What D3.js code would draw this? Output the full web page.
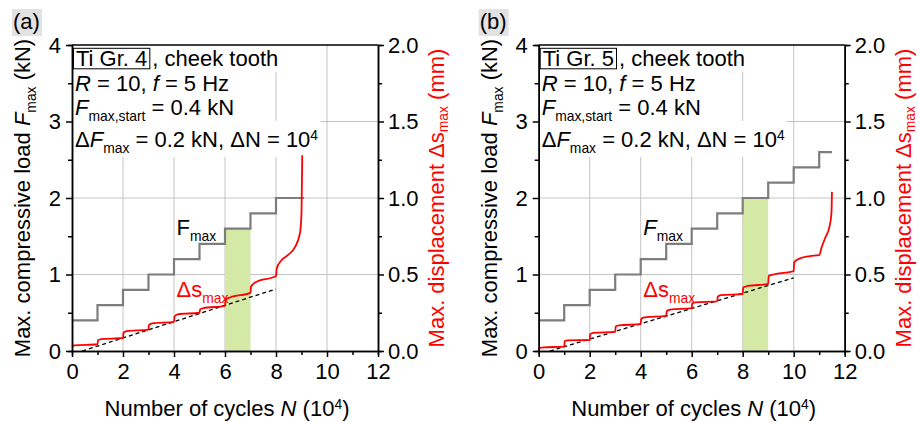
<!DOCTYPE html>
<html>
<head>
<meta charset="utf-8">
<script src="https://d3js.org/d3.v7.min.js"></script>
<style>
  body { margin: 0; background: #fff; }
  text { font-family: "Liberation Sans", Arial, sans-serif; }
</style>
</head>
<body>
<script>
// ---- data ----
const xTicks = [0, 2, 4, 6, 8, 10, 12];
const xMinor = [1, 3, 5, 7, 9, 11];
const fTicks = [0, 1, 2, 3, 4];
const fMinor = [0.5, 1.5, 2.5, 3.5];
const sTicks = [0, 0.5, 1.0, 1.5, 2.0];
const sMinor = [0.25, 0.75, 1.25, 1.75];

// F_max step levels (kN), one per block of 10^4 cycles
const fLevelsA = [0.4, 0.6, 0.8, 1.0, 1.2, 1.4, 1.6, 1.8, 2.0];
const fEndA = 9.1;
const fLevelsB = [0.4, 0.6, 0.8, 1.0, 1.2, 1.4, 1.6, 1.8, 2.0, 2.2, 2.4, 2.6];
const fEndB = 11.5;

// max displacement (mm) vs cycles (10^4)
const dsA = [
  [0, 0.03], [0.1, 0.037], [1, 0.044],
  [1.02, 0.07], [1.15, 0.078], [2, 0.085],
  [2.02, 0.12], [2.15, 0.13], [3, 0.14],
  [3.02, 0.17], [3.15, 0.18], [4, 0.19],
  [4.02, 0.225], [4.15, 0.24], [5, 0.25],
  [5.02, 0.27], [5.15, 0.28], [6, 0.295],
  [6.02, 0.335], [6.2, 0.35], [7, 0.38],
  [7.02, 0.42], [7.2, 0.45], [8, 0.49],
  [8.03, 0.54], [8.2, 0.59], [8.45, 0.625], [8.75, 0.68], [8.94, 0.77], [9.0, 0.9], [9.03, 1.28]
];
const dsB = [
  [0, 0.005], [0.05, 0.02], [0.2, 0.024], [1, 0.028],
  [1.02, 0.065], [1.15, 0.07], [2, 0.072],
  [2.02, 0.11], [2.15, 0.118], [3, 0.125],
  [3.02, 0.16], [3.15, 0.168], [4, 0.175],
  [4.02, 0.21], [4.15, 0.22], [5, 0.23],
  [5.02, 0.26], [5.15, 0.27], [6, 0.28],
  [6.02, 0.31], [6.15, 0.318], [7, 0.325],
  [7.02, 0.355], [7.15, 0.365], [8, 0.372],
  [8.02, 0.415], [8.2, 0.425], [9, 0.438],
  [9.02, 0.49], [9.2, 0.5], [10, 0.522],
  [10.02, 0.58], [10.25, 0.605], [10.64, 0.62], [11, 0.627],
  [11.1, 0.68], [11.25, 0.745], [11.4, 0.81], [11.48, 0.9], [11.5, 1.04]
];
// linear trend (dashed)
const trendA = [[0.4, 0], [8, 0.405]];
const trendB = [[0.44, 0], [10, 0.478]];
// highlighted block [start, end, Fmax]
const bandA = [6, 7, 1.6];
const bandB = [8, 9, 2.0];

const panels = [
  { id: "(a)", left: 72, mat: "Ti Gr. 4", fLevels: fLevelsA, fEnd: fEndA, ds: dsA, trend: trendA, band: bandA, fItalic: false },
  { id: "(b)", left: 538.7, mat: "Ti Gr. 5", fLevels: fLevelsB, fEnd: fEndB, ds: dsB, trend: trendB, band: bandB, fItalic: true }
];

const W = 919, H = 422;
const plotTop = 45, plotBottom = 351, pw = 306;
const FS = 22;

const svg = d3.select("body").append("svg").attr("width", W).attr("height", H);

// rich text helper: segs = [{t, it, sub, sup}]
function rich(g, x, y, segs, size, color, subShift) {
  const t = g.append("text").attr("x", x).attr("y", y)
    .style("font-size", size + "px").attr("fill", color || "#000");
  let shift = 0;
  segs.forEach(s => {
    const target = s.sub ? (subShift || 0.28) * size : (s.sup ? -0.3 * size : 0);
    const sp = t.append("tspan").text(s.t).attr("dy", target - shift);
    shift = target;
    if (s.sub || s.sup) sp.style("font-size", (0.63 * size) + "px");
    if (s.it) sp.style("font-style", "italic");
  });
  return t;
}

panels.forEach(p => {
  const g = svg.append("g");
  const x = d3.scaleLinear().domain([0, 12]).range([p.left, p.left + pw]);
  const yF = d3.scaleLinear().domain([0, 4]).range([plotBottom, plotTop]);
  const yS = d3.scaleLinear().domain([0, 2]).range([plotBottom, plotTop]);

  // panel tag
  g.append("rect").attr("x", p.left - 60).attr("y", 9).attr("width", 30).attr("height", 27).attr("fill", "#e2e2e2");
  g.append("text").attr("x", p.left - 59).attr("y", 28.5).style("font-size", FS + "px").text(p.id);

  // grid
  g.selectAll(".gx").data(xTicks.slice(1, -1)).join("line")
    .attr("x1", d => x(d)).attr("x2", d => x(d)).attr("y1", plotTop).attr("y2", plotBottom)
    .attr("stroke", "#c4c4c4").attr("stroke-width", 1);
  g.selectAll(".gy").data(fTicks.slice(1, -1)).join("line")
    .attr("x1", p.left).attr("x2", p.left + pw).attr("y1", d => yF(d)).attr("y2", d => yF(d))
    .attr("stroke", "#c4c4c4").attr("stroke-width", 1);

  // annotation text with white backgrounds
  const bg = g.append("g");
  const tx = g.append("g");
  const lx = p.left + 3;
  const t1 = tx.append("text").attr("x", p.left + 4).attr("y", 65.5).style("font-size", FS + "px").text(p.mat);
  const b1 = t1.node().getBBox();
  const t1b = tx.append("text").attr("x", b1.x + b1.width + 5).attr("y", 65.5).style("font-size", FS + "px").text(", cheek tooth");
  const t2 = rich(tx, lx, 91, [{ t: "R", it: true }, { t: " = 10, " }, { t: "f", it: true }, { t: " = 5 Hz" }], FS);
  const t3 = rich(tx, lx, 115, [{ t: "F", it: true }, { t: "max,start", sub: true }, { t: " = 0.4 kN" }], FS);
  const t4 = rich(tx, lx, 146.5, [{ t: "Δ" }, { t: "F", it: true }, { t: "max", sub: true }, { t: " = 0.2 kN, ΔN = 10" }, { t: "4", sup: true }], FS);
  const bands = [[t1b, 45, 72], [t2, 72, 97], [t3, 97, 121], [t4, 121, 157]];
  bands.forEach(([t, y0, y1]) => {
    const bb = t.node().getBBox();
    bg.append("rect").attr("x", p.left + 1).attr("y", y0)
      .attr("width", bb.x + bb.width + 2 - p.left - 1).attr("height", y1 - y0).attr("fill", "#fff");
  });
  tx.append("rect").attr("x", b1.x - 2.5).attr("y", 48.3).attr("width", b1.width + 5).attr("height", 20.5)
    .attr("fill", "none").attr("stroke", "#000").attr("stroke-width", 1);

  // highlighted block
  g.append("rect").attr("x", x(p.band[0])).attr("width", x(p.band[1]) - x(p.band[0]))
    .attr("y", yF(p.band[2])).attr("height", plotBottom - yF(p.band[2])).attr("fill", "#d4e9a6");

  // trend
  g.append("path").attr("d", d3.line().x(d => x(d[0])).y(d => yS(d[1]))(p.trend))
    .attr("fill", "none").attr("stroke", "#000").attr("stroke-width", 1.3).attr("stroke-dasharray", "4,3");

  // F_max steps
  const steps = [];
  p.fLevels.forEach((v, i) => {
    steps.push([i, v]);
    steps.push([i === p.fLevels.length - 1 ? p.fEnd : i + 1, v]);
  });
  g.append("path").attr("d", d3.line().x(d => x(d[0])).y(d => yF(d[1]))(steps))
    .attr("fill", "none").attr("stroke", "#7d7d7d").attr("stroke-width", 2.2);

  // displacement
  g.append("path").attr("d", d3.line().x(d => x(d[0])).y(d => yS(d[1])).curve(d3.curveMonotoneX)(p.ds))
    .attr("fill", "none").attr("stroke", "#ff0000").attr("stroke-width", 1.8);

  // curve labels
  rich(g, x(4.1), 235, [{ t: "F", it: p.fItalic }, { t: "max", sub: true }], FS, "#000");
  rich(g, x(4.1), 297, [{ t: "Δs" }, { t: "max", sub: true }], FS, "#ff0000");

  // axes
  function styleAxis(a) {
    a.selectAll("path").attr("stroke", "#000").attr("stroke-width", 1.5);
    a.selectAll("line").attr("stroke", "#000").attr("stroke-width", 1.5);
    a.selectAll("text").style("font-size", FS + "px").style("font-family", "Liberation Sans, Arial, sans-serif").attr("fill", "#000");
  }
  styleAxis(g.append("g").attr("transform", `translate(0,${plotBottom})`)
    .call(d3.axisBottom(x).tickValues(xMinor).tickSize(4).tickFormat("")));
  styleAxis(g.append("g").attr("transform", `translate(0,${plotBottom})`)
    .call(d3.axisBottom(x).tickValues(xTicks).tickSize(6).tickSizeOuter(0).tickPadding(6).tickFormat(d3.format("d"))));
  styleAxis(g.append("g").attr("transform", `translate(${p.left},0)`)
    .call(d3.axisLeft(yF).tickValues(fMinor).tickSize(4).tickFormat("")));
  styleAxis(g.append("g").attr("transform", `translate(${p.left},0)`)
    .call(d3.axisLeft(yF).tickValues(fTicks).tickSize(6).tickSizeOuter(0).tickPadding(5).tickFormat(d3.format("d"))));
  styleAxis(g.append("g").attr("transform", `translate(${p.left + pw},0)`)
    .call(d3.axisRight(yS).tickValues(sMinor).tickSize(4).tickFormat("")));
  styleAxis(g.append("g").attr("transform", `translate(${p.left + pw},0)`)
    .call(d3.axisRight(yS).tickValues(sTicks).tickSize(6).tickSizeOuter(0).tickPadding(4).tickFormat(d3.format(".1f"))));
  g.append("line").attr("x1", p.left).attr("x2", p.left + pw).attr("y1", plotTop).attr("y2", plotTop)
    .attr("stroke", "#000").attr("stroke-width", 1.5);

  // axis titles
  const xt = rich(g, 0, 0, [{ t: "Number of cycles " }, { t: "N", it: true }, { t: " (10" }, { t: "4", sup: true }, { t: ")" }], FS);
  xt.attr("text-anchor", "middle").attr("transform", `translate(${p.left + pw / 2 + 2},${416})`);
  const yt = rich(g, 0, 0, [{ t: "Max. compressive load " }, { t: "F", it: true }, { t: "max", sub: true }, { t: " (kN)" }], FS);
  yt.attr("text-anchor", "middle").attr("transform", `translate(${p.left - 42},${(plotTop + plotBottom) / 2}) rotate(-90)`);
  const rt = rich(g, 0, 0, [{ t: "Max. displacement Δs" }, { t: "max", sub: true }, { t: " (mm)" }], FS, "#ff0000", 0.2);
  rt.attr("text-anchor", "middle").attr("transform", `translate(${p.left + pw + 66},${(plotTop + plotBottom) / 2}) rotate(-90)`);
});
</script>
</body>
</html>
